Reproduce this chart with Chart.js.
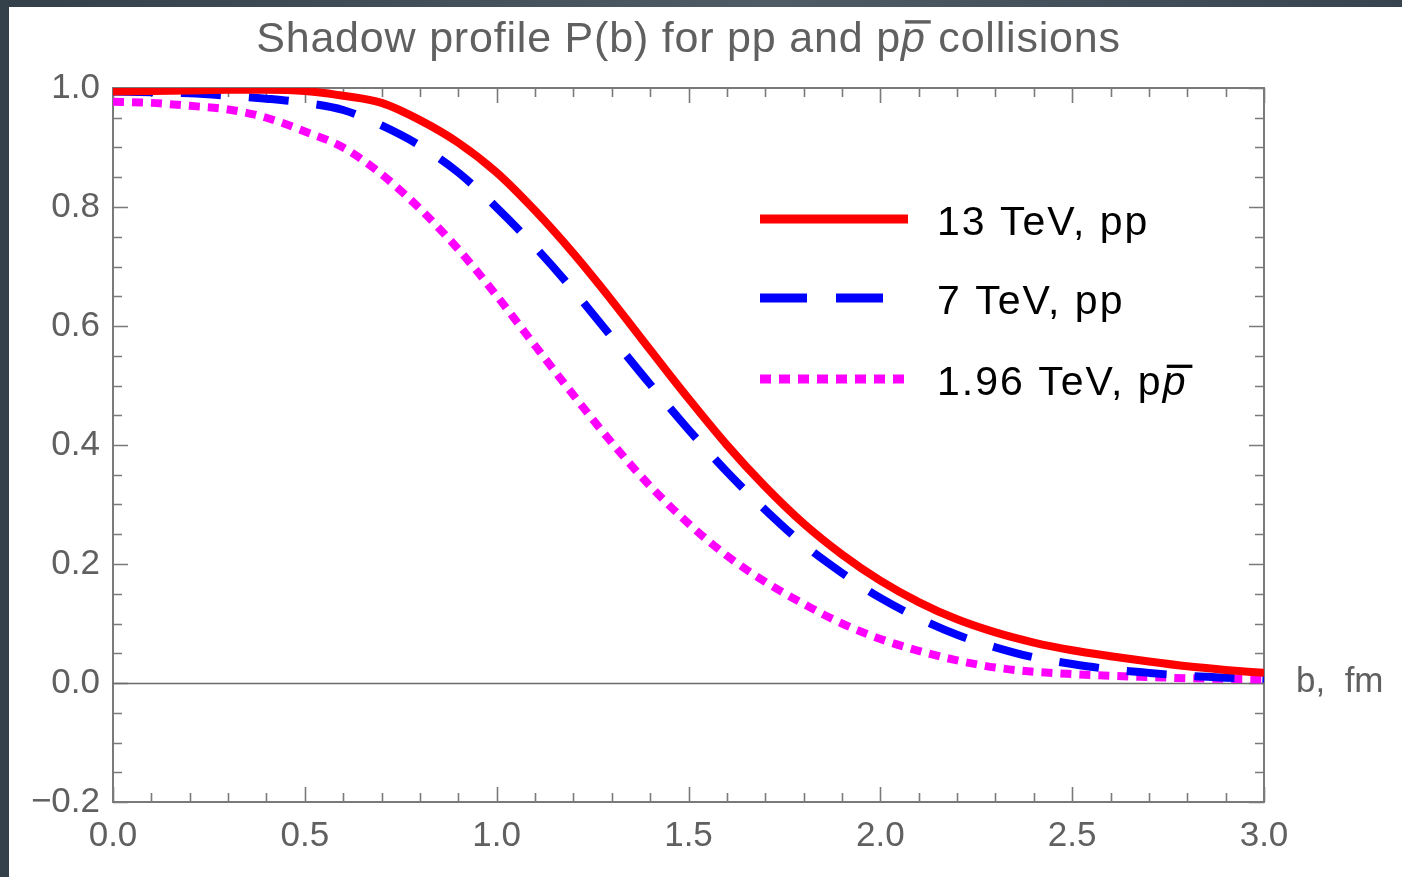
<!DOCTYPE html>
<html>
<head>
<meta charset="utf-8">
<script src="https://cdn.jsdelivr.net/npm/chart.js@4.4.1/dist/chart.umd.min.js"></script>
<style>
  html, body { margin: 0; padding: 0; }
  body {
    width: 1402px; height: 877px; overflow: hidden; position: relative;
    background: linear-gradient(90deg, #333f49 0%, #4f5b65 55%, #37434e 100%);
  }
  #panel { position: absolute; left: 9px; top: 7px; width: 1393px; height: 870px; background: #fff; }
  canvas { display: block; }
</style>
</head>
<body>
<div id="panel"><canvas id="myChart" width="1393" height="870"></canvas></div>
<script>
// impact parameter b, fm
const bValues = [0.0, 0.1, 0.2, 0.3, 0.4, 0.5, 0.6, 0.7, 0.8, 0.9, 1.0,
                 1.1, 1.2, 1.3, 1.4, 1.5, 1.6, 1.7, 1.8, 1.9, 2.0,
                 2.1, 2.2, 2.3, 2.4, 2.5, 2.6, 2.7, 2.8, 2.9, 3.0];

// shadow profile P(b)
const p13TeV = [0.994, 0.995, 0.996, 0.997, 0.997, 0.995, 0.987, 0.975, 0.946, 0.908, 0.858,
                0.794, 0.722, 0.643, 0.560, 0.478, 0.400, 0.330, 0.268, 0.216, 0.172,
                0.136, 0.107, 0.085, 0.068, 0.055, 0.045, 0.036, 0.028, 0.022, 0.017];
const p7TeV = [0.994, 0.993, 0.991, 0.987, 0.982, 0.975, 0.963, 0.937, 0.903, 0.858, 0.799,
               0.733, 0.660, 0.581, 0.502, 0.426, 0.355, 0.291, 0.233, 0.185, 0.143,
               0.109, 0.081, 0.060, 0.043, 0.032, 0.023, 0.017, 0.012, 0.009, 0.007];
const p196TeV = [0.977, 0.975, 0.970, 0.964, 0.950, 0.927, 0.900, 0.855, 0.797, 0.729, 0.651,
                 0.567, 0.484, 0.404, 0.331, 0.268, 0.214, 0.170, 0.133, 0.100, 0.074,
                 0.054, 0.038, 0.026, 0.019, 0.015, 0.012, 0.010, 0.008, 0.007, 0.006];

// text pieces: [plain, italic barred letter, rest]
const titleParts = ['Shadow profile P(b) for pp and p', 'p', ' collisions'];
const legendParts = [
  ['13 TeV, pp', '', ''],
  ['7 TeV, pp', '', ''],
  ['1.96 TeV, p', 'p', '']
];
const xAxisLabel = 'b,  fm';

const FONT = '"Liberation Sans", Arial, sans-serif';
const AXIS_GRAY = '#7a7a7a';
const TEXT_GRAY = '#606060';

function toPoints(ys) {
  return bValues.map((b, i) => ({ x: b, y: ys[i] }));
}

function drawBarred(ctx, parts, x, y, size, color, align, spacing) {
  const normal = size + 'px ' + FONT;
  const italic = 'italic ' + normal;
  ctx.letterSpacing = spacing + 'px';
  ctx.font = normal;
  const w0 = ctx.measureText(parts[0]).width;
  const w2 = parts[2] ? ctx.measureText(parts[2]).width : 0;
  ctx.font = italic;
  const w1 = parts[1] ? ctx.measureText(parts[1]).width : 0;
  let x0 = align === 'center' ? x - (w0 + w1 + w2) / 2 : x;
  ctx.fillStyle = color;
  ctx.textAlign = 'left';
  ctx.textBaseline = 'alphabetic';
  ctx.font = normal;
  ctx.fillText(parts[0], x0, y);
  if (parts[1]) {
    ctx.font = italic;
    ctx.fillText(parts[1], x0 + w0, y);
    ctx.fillRect(x0 + w0 + size * 0.1, y - size * 0.74, w1 + size * 0.02, Math.max(2.5, size * 0.08));
  }
  if (parts[2]) {
    ctx.font = normal;
    ctx.fillText(parts[2], x0 + w0 + w1, y);
  }
  ctx.letterSpacing = '0px';
}

// frame, ticks and the zero axis, Mathematica style
const framePlugin = {
  id: 'frame',
  beforeDatasetsDraw(chart) {
    const { ctx, chartArea: a, scales: { x, y } } = chart;
    ctx.save();
    ctx.strokeStyle = AXIS_GRAY;
    ctx.lineWidth = 2;
    ctx.strokeRect(a.left, a.top, a.right - a.left, a.bottom - a.top);
    ctx.lineWidth = 1.6;
    ctx.beginPath();
    for (let i = 0; i <= 30; i++) {
      const px = Math.round(x.getPixelForValue(i / 10)) + 0.5;
      const len = i % 5 === 0 ? 15 : 9;
      ctx.moveTo(px, a.bottom); ctx.lineTo(px, a.bottom - len);
      ctx.moveTo(px, a.top); ctx.lineTo(px, a.top + len);
    }
    for (let i = -4; i <= 20; i++) {
      const py = Math.round(y.getPixelForValue(i / 20)) + 0.5;
      const len = i % 4 === 0 ? 15 : 9;
      ctx.moveTo(a.left, py); ctx.lineTo(a.left + len, py);
      ctx.moveTo(a.right, py); ctx.lineTo(a.right - len, py);
    }
    ctx.stroke();
    // axis at P = 0
    ctx.strokeStyle = '#6a6a6a';
    ctx.lineWidth = 1.6;
    const y0 = Math.round(y.getPixelForValue(0)) + 0.5;
    ctx.beginPath();
    ctx.moveTo(a.left, y0); ctx.lineTo(a.right, y0);
    ctx.stroke();
    ctx.restore();
  }
};

// title, inset legend and axis label
const legendRows = [212, 291, 372];
const legendEnds = [899, 875, 899];
const legendDash = [[], [47, 29], [11, 8]];

const textPlugin = {
  id: 'texts',
  afterDraw(chart) {
    const { ctx, chartArea: a, scales: { y } } = chart;
    ctx.save();
    drawBarred(ctx, titleParts, (a.left + a.right) / 2, 45, 43, TEXT_GRAY, 'center', 0.8);

    chart.data.datasets.forEach((d, i) => {
      ctx.strokeStyle = d.borderColor;
      ctx.lineWidth = 9;
      ctx.lineCap = 'butt';
      ctx.setLineDash(legendDash[i]);
      ctx.beginPath();
      ctx.moveTo(751, legendRows[i]); ctx.lineTo(legendEnds[i], legendRows[i]);
      ctx.stroke();
      ctx.setLineDash([]);
      drawBarred(ctx, legendParts[i], 928, legendRows[i] + 16, 41, '#000', 'left', 2);
    });

    ctx.fillStyle = TEXT_GRAY;
    ctx.font = '35px ' + FONT;
    ctx.textAlign = 'left';
    ctx.textBaseline = 'alphabetic';
    ctx.fillText(xAxisLabel, a.right + 32, y.getPixelForValue(0) + 9);
    ctx.restore();
  }
};

const ctx = document.getElementById('myChart');

new Chart(ctx.getContext('2d'), {
  type: 'line',
  data: {
    datasets: [
      {
        label: '13 TeV, pp',
        data: toPoints(p13TeV),
        borderColor: '#ff0000',
        borderWidth: 8,
        pointRadius: 0,
        cubicInterpolationMode: 'monotone',
        fill: false
      },
      {
        label: '7 TeV, pp',
        data: toPoints(p7TeV),
        borderColor: '#0000ff',
        borderWidth: 8,
        borderDash: [40, 28],
        pointRadius: 0,
        cubicInterpolationMode: 'monotone',
        fill: false
      },
      {
        label: '1.96 TeV, pp\u0304',
        data: toPoints(p196TeV),
        borderColor: '#ff00ff',
        borderWidth: 8,
        borderDash: [11, 8],
        pointRadius: 0,
        cubicInterpolationMode: 'monotone',
        fill: false
      }
    ]
  },
  options: {
    responsive: false,
    animation: false,
    layout: { padding: { top: 81, right: 138, left: 0, bottom: 0 } },
    plugins: {
      legend: { display: false },
      title: { display: false },
      tooltip: { enabled: false }
    },
    scales: {
      x: {
        type: 'linear',
        min: 0,
        max: 3,
        grid: { display: false, drawTicks: false },
        border: { display: false },
        ticks: {
          stepSize: 0.5,
          maxRotation: 0,
          padding: 13,
          color: TEXT_GRAY,
          font: { size: 35, family: FONT },
          callback: v => v.toFixed(1)
        },
        afterFit: s => { s.height = 75; }
      },
      y: {
        min: -0.2,
        max: 1.0,
        grid: { display: false, drawTicks: false },
        border: { display: false },
        ticks: {
          stepSize: 0.2,
          padding: 13,
          color: TEXT_GRAY,
          font: { size: 35, family: FONT },
          callback: v => (v < -1e-9 ? '\u2212' : '') + Math.abs(v).toFixed(1)
        },
        afterFit: s => { s.width = 104; }
      }
    }
  },
  plugins: [framePlugin, textPlugin]
});
</script>
</body>
</html>
